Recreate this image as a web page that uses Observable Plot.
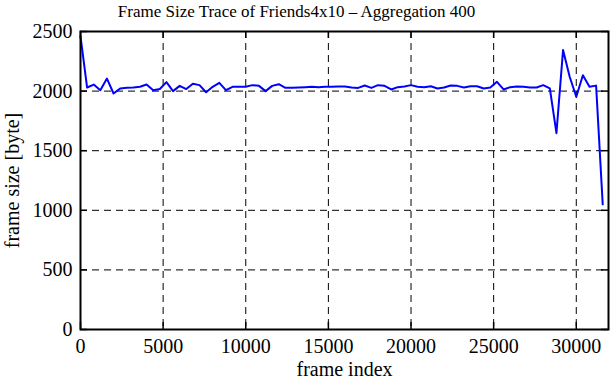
<!DOCTYPE html>
<html>
<head>
<meta charset="utf-8">
<script src="https://cdn.jsdelivr.net/npm/d3@7"></script>
<script src="https://cdn.jsdelivr.net/npm/@observablehq/plot@0.6"></script>
<style>
  html, body { margin: 0; padding: 0; background: white; }
</style>
</head>
<body>
<div id="chart"></div>
<script>
const title = "Frame Size Trace of Friends4x10 \u2013 Aggregation 400";
const xLabel = "frame index";
const yLabel = "frame size [byte]";
const xTicks = [0, 5000, 10000, 15000, 20000, 25000, 30000];
const yTicks = [0, 500, 1000, 1500, 2000, 2500];

const frames = [
  0, 400, 800, 1200, 1600, 2000, 2400, 2800, 3200, 3600,
  4000, 4400, 4800, 5200, 5600, 6000, 6400, 6800, 7200, 7600,
  8000, 8400, 8800, 9200, 9600, 10000, 10400, 10800, 11200, 11600,
  12000, 12400, 12800, 13200, 13600, 14000, 14400, 14800, 15200, 15600,
  16000, 16400, 16800, 17200, 17600, 18000, 18400, 18800, 19200, 19600,
  20000, 20400, 20800, 21200, 21600, 22000, 22400, 22800, 23200, 23600,
  24000, 24400, 24800, 25200, 25600, 26000, 26400, 26800, 27200, 27600,
  28000, 28400, 28800, 29200, 29600, 30000, 30400, 30800, 31200, 31600
];
const sizes = [
  2460, 2030, 2055, 2008, 2105, 1980, 2022, 2028, 2030, 2036,
  2055, 2008, 2018, 2075, 2000, 2044, 2017, 2061, 2050, 1990,
  2036, 2069, 2008, 2036, 2036, 2036, 2050, 2044, 2000, 2044,
  2058, 2028, 2028, 2030, 2033, 2036, 2033, 2036, 2036, 2038,
  2039, 2030, 2027, 2047, 2027, 2050, 2044, 2014, 2033, 2039,
  2050, 2036, 2033, 2041, 2022, 2030, 2047, 2044, 2030, 2041,
  2041, 2022, 2030, 2078, 2014, 2033, 2039, 2036, 2030, 2030,
  2050, 2022, 1647, 2345, 2120, 1953, 2133, 2036, 2046, 1050
];

const data = frames.map((f, i) => ({frame: f, size: sizes[i]}));

const chart = Plot.plot({
  width: 611,
  height: 380,
  marginTop: 31,
  marginBottom: 51,
  marginLeft: 80,
  marginRight: 3,
  style: {fontFamily: "'Liberation Serif', 'Times New Roman', serif", fontSize: "20px", background: "white", color: "black"},
  x: {domain: [0, 31950], ticks: xTicks, tickFormat: d => String(d)},
  y: {domain: [0, 2500], ticks: yTicks, tickFormat: d => String(d)},
  marks: [
    Plot.ruleX(xTicks.slice(1), {x: d => d, stroke: "black", strokeWidth: 1, strokeDasharray: "7,5", strokeOpacity: 1}),
    Plot.ruleY(yTicks.slice(1), {y: d => d, stroke: "black", strokeWidth: 1, strokeDasharray: "7,5", strokeOpacity: 1}),
    Plot.ruleX(xTicks, {x: d => d, stroke: "black", strokeWidth: 1.5, insetTop: 291}),
    Plot.ruleX(xTicks, {x: d => d, stroke: "black", strokeWidth: 1.5, insetBottom: 291}),
    Plot.ruleY(yTicks, {y: d => d, stroke: "black", strokeWidth: 1.5, insetRight: 521}),
    Plot.ruleY(yTicks, {y: d => d, stroke: "black", strokeWidth: 1.5, insetLeft: 521}),
    Plot.line(data, {x: "frame", y: "size", stroke: "#0000ff", strokeWidth: 2}),
    Plot.frame({stroke: "black", strokeWidth: 2}),
    Plot.axisX({ticks: xTicks, tickSize: 0, tickPadding: 9, label: null, tickFormat: d => String(d)}),
    Plot.axisY({ticks: yTicks, tickSize: 0, tickPadding: 8, label: null, tickFormat: d => String(d)}),
    Plot.text([xLabel], {frameAnchor: "bottom", textAnchor: "middle", dy: 46, fontSize: 20, fill: "black"}),
    Plot.text([yLabel], {frameAnchor: "left", textAnchor: "middle", dx: -68, rotate: -90, fontSize: 20, fill: "black"}),
    Plot.text([title], {frameAnchor: "top", textAnchor: "middle", lineAnchor: "middle", dx: -48, dy: -20, fontSize: 17, fill: "black"})
  ]
});
document.getElementById("chart").appendChild(chart);
</script>
</body>
</html>
